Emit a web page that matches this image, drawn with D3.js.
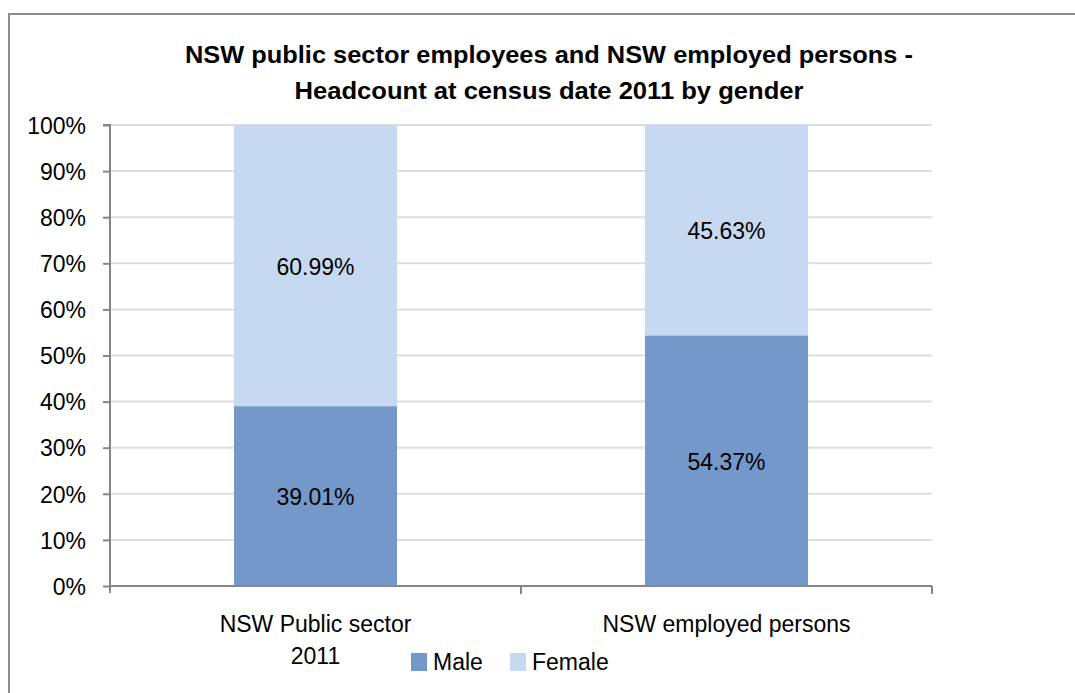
<!DOCTYPE html>
<html>
<head>
<meta charset="utf-8">
<script src="https://cdn.jsdelivr.net/npm/d3@7"></script>
<style>
  html, body { margin: 0; padding: 0; background: #fff; }
  svg { display: block; font-family: "Liberation Sans", Arial, sans-serif; }
</style>
</head>
<body>
<svg id="chart" width="1075" height="693"></svg>
<script>
// Headcount share by gender, NSW public sector vs all NSW employed persons (2011)
const categories = [["NSW Public sector", "2011"], ["NSW employed persons"]];
const seriesNames = ["Male", "Female"];
const male = [39.01, 54.37];
const female = [60.99, 45.63];
const yTicks = [0, 10, 20, 30, 40, 50, 60, 70, 80, 90, 100];
const titleLines = [
  "NSW public sector employees and NSW employed persons -",
  "Headcount at census date 2011 by gender"
];
const colors = { Male: "#7598ca", Female: "#c6d9f1" };

const svg = d3.select("#chart");

// chart frame
svg.append("rect")
  .attr("x", 9).attr("y", 14)
  .attr("width", 1200).attr("height", 800)
  .attr("fill", "#fff")
  .attr("stroke", "#8c8c8c").attr("stroke-width", 2);

const plot = { left: 110, right: 932, top: 125, bottom: 586 };

const y = d3.scaleLinear().domain([0, 100]).range([plot.bottom, plot.top]);
const x = d3.scaleBand()
  .domain(d3.range(categories.length))
  .range([plot.left, plot.right])
  .paddingInner(0.6034)
  .paddingOuter(0.3017);

// gridlines
svg.append("g")
  .selectAll("line")
  .data(yTicks.filter(t => t > 0))
  .join("line")
  .attr("x1", plot.left).attr("x2", plot.right)
  .attr("y1", d => y(d)).attr("y2", d => y(d))
  .attr("stroke", "#dedede").attr("stroke-width", 2);

// stacked bars
const rows = categories.map((c, i) => ({ i, Male: male[i], Female: female[i] }));
const stack = d3.stack().keys(seriesNames)(rows);

const layers = svg.append("g")
  .selectAll("g")
  .data(stack)
  .join("g")
  .attr("fill", d => colors[d.key]);

layers.selectAll("rect")
  .data(d => d)
  .join("rect")
  .attr("x", d => x(d.data.i))
  .attr("width", x.bandwidth())
  .attr("y", d => y(d[1]))
  .attr("height", d => y(d[0]) - y(d[1]));

// value labels centred in each segment
layers.selectAll("text")
  .data(d => d.map(s => ({ s, key: d.key })))
  .join("text")
  .attr("x", d => x(d.s.data.i) + x.bandwidth() / 2)
  .attr("y", d => (y(d.s[0]) + y(d.s[1])) / 2 + 9)
  .attr("text-anchor", "middle")
  .attr("fill", "#000")
  .style("font-size", "23px")
  .text(d => d.s.data[d.key].toFixed(2) + "%");

// y axis
const yAxis = d3.axisLeft(y).tickValues(yTicks).tickSize(7).tickPadding(17)
  .tickFormat(d => d + "%");
const gy = svg.append("g").attr("transform", `translate(${plot.left},0)`).call(yAxis);
gy.select(".domain").attr("stroke", "#868686").attr("stroke-width", 2)
  .attr("d", `M-7,${plot.top}H0V${plot.bottom + 7}`);
gy.selectAll(".tick line").attr("stroke", "#868686").attr("stroke-width", 2);
gy.selectAll(".tick text").attr("fill", "#000").style("font-size", "23px")
  .style("font-family", "Liberation Sans, Arial, sans-serif")
  .attr("dy", "0.36em");

// x axis with boundary ticks between categories
const gx = svg.append("g");
gx.append("line")
  .attr("x1", plot.left).attr("x2", plot.right)
  .attr("y1", plot.bottom).attr("y2", plot.bottom)
  .attr("stroke", "#868686").attr("stroke-width", 2);
const bounds = d3.range(categories.length + 1).map(i =>
  i < categories.length ? x(i) - x.step() * x.paddingInner() / 2 : plot.right);
gx.selectAll(".xt")
  .data(bounds.slice(1))
  .join("line")
  .attr("x1", d => d).attr("x2", d => d)
  .attr("y1", plot.bottom).attr("y2", plot.bottom + 8)
  .attr("stroke", "#868686").attr("stroke-width", 2);

// category labels
const catText = svg.append("g")
  .selectAll("text")
  .data(categories)
  .join("text")
  .attr("x", (d, i) => x(i) + x.bandwidth() / 2)
  .attr("y", 632)
  .attr("text-anchor", "middle")
  .attr("fill", "#000")
  .style("font-size", "23px");
catText.selectAll("tspan")
  .data((d, i) => d.map(line => ({ line, i })))
  .join("tspan")
  .attr("x", d => x(d.i) + x.bandwidth() / 2)
  .attr("dy", (d, j) => j === 0 ? 0 : 32)
  .text(d => d.line);

// title
svg.append("g")
  .selectAll("text")
  .data(titleLines)
  .join("text")
  .attr("x", 549)
  .attr("y", (d, i) => 63 + i * 36)
  .attr("text-anchor", "middle")
  .attr("fill", "#000")
  .style("font-size", "24px")
  .style("font-weight", "bold")
  .attr("textLength", (d, i) => [728, 509][i])
  .attr("lengthAdjust", "spacingAndGlyphs")
  .text(d => d);

// legend
const legendX = [411, 510];
const legend = svg.append("g")
  .selectAll("g")
  .data(seriesNames)
  .join("g")
  .attr("transform", (d, i) => `translate(${legendX[i]},653)`);
legend.append("rect")
  .attr("width", 16).attr("height", 18)
  .attr("fill", d => colors[d]);
legend.append("text")
  .attr("x", 22).attr("y", 17)
  .attr("fill", "#000")
  .style("font-size", "23px")
  .text(d => d);
</script>
</body>
</html>
